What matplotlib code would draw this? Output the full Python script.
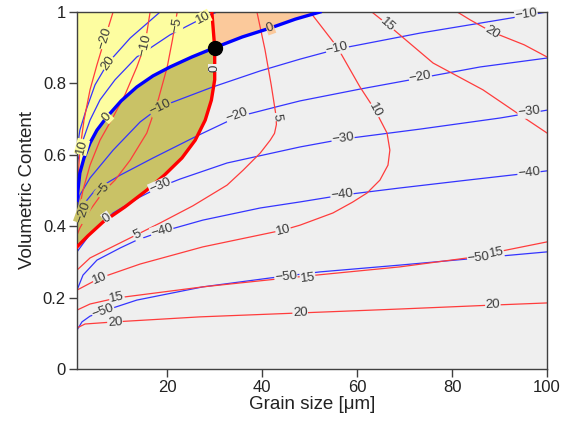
import numpy as np
import matplotlib.pyplot as plt

plt.rcParams['font.family'] = ['Liberation Sans', 'DejaVu Sans']

# --- curves (grain size um, volumetric content) ---
# thick boundaries
blue0_x = [1, 1.2, 1.6, 2.47, 3.74, 5.2, 7.3, 10.3, 13.6, 17.0, 20.6, 25.2, 30, 35.8, 41.7, 47.0, 52.2]
blue0_y = [0.473, 0.501, 0.549, 0.591, 0.633, 0.669, 0.706, 0.751, 0.790, 0.821, 0.846, 0.874, 0.9,
           0.930, 0.955, 0.980, 1.0]
red0_x = [29.4, 30, 30, 29.3, 28.0, 25.9, 23.1, 19.4, 15.7, 11.1, 6.5, 3.3, 1]
red0_y = [1.0, 0.9, 0.81, 0.753, 0.697, 0.641, 0.591, 0.543, 0.501, 0.454, 0.412, 0.373, 0.342]

# thin blue contours
blue_lines = {
    '20': ([1, 1.6, 2.9, 4.8, 7.5, 12.2, 18.5],
           [0.613, 0.669, 0.725, 0.796, 0.857, 0.927, 1.0]),
    '10': ([1, 1.2, 2.26, 3.74, 5.85, 9.0, 13.6, 20.6, 27.5, 30.5],
           [0.563, 0.585, 0.641, 0.697, 0.754, 0.810, 0.874, 0.936, 0.983, 1.0]),
    '-10': ([1, 1.6, 3.74, 8.6, 14.3, 18.5, 29.6, 39.6, 48.0, 55.8, 73.3, 90.1, 100],
            [0.451, 0.487, 0.535, 0.613, 0.692, 0.734, 0.790, 0.835, 0.868, 0.896, 0.941, 0.978, 1.0]),
    '-20': ([1, 2.26, 4.8, 10.1, 17.0, 26.3, 34.7, 43.8, 48.0, 60.6, 73.3, 85.9, 100],
            [0.423, 0.459, 0.501, 0.543, 0.591, 0.653, 0.706, 0.737, 0.751, 0.784, 0.815, 0.846, 0.871]),
    '-30': ([1, 3.74, 8.6, 14.3, 18.5, 22.7, 32.6, 48.0, 57.0, 73.3, 90.1, 96.4, 100],
            [0.328, 0.378, 0.437, 0.482, 0.510, 0.532, 0.577, 0.622, 0.644, 0.672, 0.703, 0.717, 0.725]),
    '-40': ([1, 2.26, 5.2, 10.1, 13.6, 17.9, 27.5, 39.6, 48.0, 56.8, 69.0, 83.2, 96.4, 100],
            [0.221, 0.263, 0.305, 0.339, 0.361, 0.381, 0.417, 0.451, 0.468, 0.487, 0.507, 0.529, 0.549, 0.555]),
    '-50': ([1, 2.05, 3.74, 6.5, 13.6, 27.5, 41.7, 52.2, 69.0, 83.2, 100],
            [0.109, 0.132, 0.148, 0.162, 0.193, 0.230, 0.255, 0.272, 0.291, 0.308, 0.328]),
}

# thin red contours
red_lines = {
    '-20': ([1, 1.2, 1.6, 2.47, 3.74, 5.2, 6.9, 8.6],
            [0.473, 0.529, 0.613, 0.697, 0.782, 0.852, 0.927, 1.0]),
    '-10': ([1, 1.2, 2.26, 3.74, 5.85, 8.6, 11.1, 13.6, 15.3, 16.4],
            [0.412, 0.431, 0.501, 0.571, 0.641, 0.706, 0.768, 0.846, 0.908, 1.0]),
    '-5': ([1, 1.6, 3.74, 6.5, 9.0, 12.2, 15.7, 18.1, 20.0, 21.1, 22.1],
           [0.375, 0.395, 0.445, 0.496, 0.529, 0.585, 0.661, 0.754, 0.846, 0.922, 1.0]),
    '5': ([1, 3.74, 7.95, 14.3, 18.5, 25.4, 32.6, 36.0, 39.6, 41.7, 42.6, 43.0, 42.9, 41.9, 40.6, 38.9],
          [0.277, 0.311, 0.339, 0.381, 0.409, 0.457, 0.515, 0.557, 0.605, 0.641, 0.660, 0.685, 0.711, 0.796,
           0.894, 1.0]),
    '10': ([1, 5.85, 14.3, 27.5, 44.4, 48.0, 54.9, 59.0, 62.1, 64.8, 66.5, 66.9, 66.3, 63.8, 60.6, 55.8, 52.2, 50.1],
           [0.221, 0.255, 0.294, 0.342, 0.389, 0.403, 0.437, 0.467, 0.493, 0.529, 0.571, 0.613, 0.661, 0.725,
            0.790, 0.902, 0.964, 1.0]),
    '15a': ([63.1, 66.5, 76.0, 86.5, 93.7, 100],
            [1.0, 0.964, 0.857, 0.782, 0.717, 0.661]),
    '15b': ([1, 3.74, 9.4, 27.5, 45.3, 69.0, 83.2, 100],
            [0.165, 0.182, 0.199, 0.230, 0.255, 0.286, 0.311, 0.356]),
    '20a': ([81.1, 83.8, 88.4, 95.2, 100],
            [1.0, 0.978, 0.944, 0.908, 0.874]),
    '20b': ([1, 2.69, 9.0, 26.9, 48.0, 69.0, 88.6, 100],
            [0.115, 0.126, 0.132, 0.146, 0.157, 0.168, 0.179, 0.185]),
}

# contour labels: (x, y, text, rotation, background)
YEL, OLV, ORG, GRY = '#fdfda0', '#c9c266', '#fbc99b', '#efefef'
labels = [
    (6.9, 0.927, '\u221220', 73, YEL), (15.3, 0.908, '\u221210', 77, YEL),
    (22.1, 0.964, '\u22125', 80, YEL), (6.5, 0.501, '\u22125', 52, OLV),
    (30, 0.843, '0', 90, GRY), (7.3, 0.423, '0', 35, GRY),
    (43.1, 0.706, '5', -82, GRY), (13.7, 0.375, '5', 27, GRY),
    (63.8, 0.725, '10', -62, GRY), (44.4, 0.389, '10', 14, GRY),
    (5.85, 0.255, '10', 22, GRY), (66.5, 0.964, '15', -42, GRY),
    (49.6, 0.255, '15', 7, GRY), (89.3, 0.325, '15', 11, GRY),
    (9.4, 0.199, '15', 12, GRY), (88.4, 0.944, '20', -32, GRY),
    (48.0, 0.157, '20', 2, GRY), (88.6, 0.179, '20', 2, GRY),
    (9.0, 0.129, '20', 4, GRY),
    (7.5, 0.857, '20', 55, YEL), (27.5, 0.983, '10', 27, YEL),
    (2.05, 0.622, '10', 75, YEL), (7.3, 0.706, '0', 48, YEL),
    (41.7, 0.955, '0', 20, ORG), (18.5, 0.734, '\u221210', 26, OLV),
    (55.8, 0.899, '\u221210', 13, GRY), (95.6, 0.992, '\u221210', 8, GRY),
    (2.26, 0.440, '\u221220', 70, OLV), (34.7, 0.711, '\u221220', 20, GRY),
    (73.3, 0.818, '\u221220', 10, GRY), (18.5, 0.513, '\u221230', 24, GRY),
    (57.0, 0.647, '\u221230', 8, GRY), (96.2, 0.720, '\u221230', 7, GRY),
    (18.9, 0.387, '\u221240', 17, GRY), (56.8, 0.487, '\u221240', 7, GRY),
    (96.2, 0.549, '\u221240', 6, GRY), (6.5, 0.162, '\u221250', 20, GRY),
    (45.0, 0.258, '\u221250', 6, GRY), (85.6, 0.311, '\u221250', 6, GRY),
]

point_x, point_y = 30, 0.9

fig = plt.figure(figsize=(5.63, 4.25), dpi=100)
ax = fig.add_axes([0.1368, 0.1318, 0.8348, 0.84])
ax.set_facecolor(GRY)

bx, by = np.array(blue0_x), np.array(blue0_y)
rx, ry = np.array(red0_x), np.array(red0_y)
k = blue0_x.index(point_x) + 1

# regions
yel_x = np.concatenate([[1], rx[:2], bx[:k][::-1]])
yel_y = np.concatenate([[1], ry[:2], by[:k][::-1]])
ax.fill(yel_x, yel_y, color=YEL, lw=0, zorder=1)
org_x = np.concatenate([rx[:2], bx[k:]])
org_y = np.concatenate([ry[:2], by[k:]])
ax.fill(org_x, org_y, color=ORG, lw=0, zorder=1)
olv_x = np.concatenate([bx[:k], rx[2:]])
olv_y = np.concatenate([by[:k], ry[2:]])
ax.fill(olv_x, olv_y, color=OLV, lw=0, zorder=1)

for xs, ys in blue_lines.values():
    ax.plot(xs, ys, color='#3434ff', lw=0.9, zorder=2)
for xs, ys in red_lines.values():
    ax.plot(xs, ys, color='#ff3c3c', lw=0.9, zorder=2)

ax.plot(blue0_x, blue0_y, color='#0000ff', lw=2.4, zorder=3)
ax.plot(red0_x, red0_y, color='#ff0000', lw=2.4, zorder=3)

for x, y, s, rot, bg in labels:
    ax.text(x, y, s, rotation=rot, rotation_mode='anchor', ha='center', va='center',
            fontsize=9.5, color='#3a3a3a', zorder=4,
            bbox=dict(boxstyle='square,pad=0.03', fc=bg, ec='none'))

ax.plot(point_x, point_y, 'o', color='black', markersize=10, zorder=5)

ax.set_xlim(1, 100)
ax.set_ylim(0, 1)
ax.set_xticks([20, 40, 60, 80, 100])
ax.set_yticks([0, 0.2, 0.4, 0.6, 0.8, 1])
ax.set_yticklabels(['0', '0.2', '0.4', '0.6', '0.8', '1'])
ax.tick_params(direction='out', length=6, width=1, color='#404040',
               labelsize=12, labelcolor='#222222', pad=2)
for sp in ax.spines.values():
    sp.set_color('#404040')
    sp.set_linewidth(1)

ax.set_xlabel('Grain size [\u03bcm]', fontsize=13.5, color='#222222', labelpad=1)
ax.set_ylabel('Volumetric Content', fontsize=13.5, color='#222222', labelpad=5)

plt.savefig('out.png', dpi=100)
